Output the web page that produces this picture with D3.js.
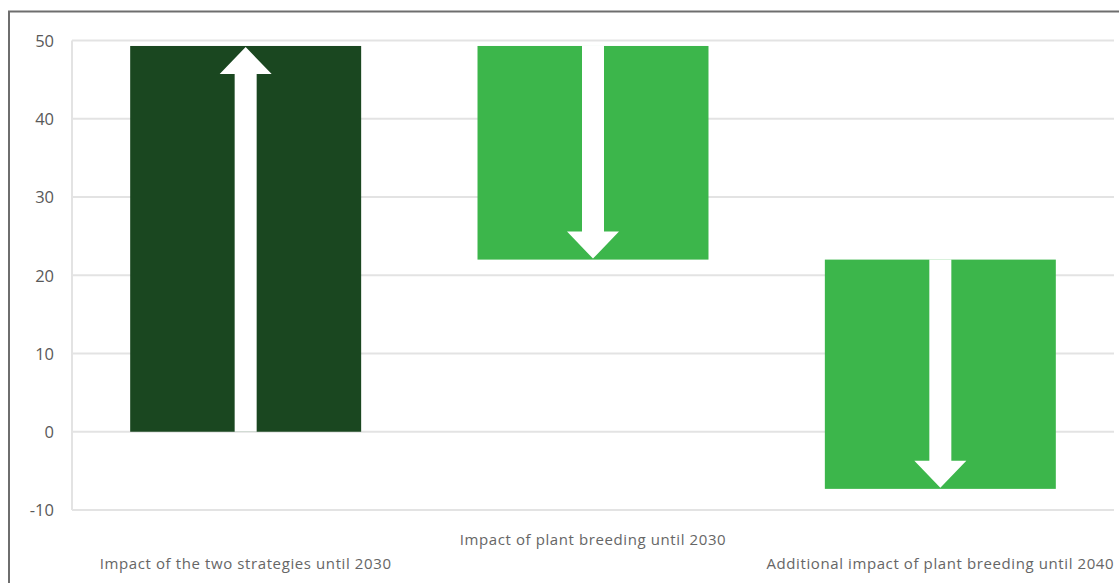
<!DOCTYPE html>
<html>
<head>
<meta charset="utf-8">
<script src="https://cdn.jsdelivr.net/npm/d3@7"></script>
<style>
html,body{margin:0;padding:0;background:#fff;}
svg{display:block;}
</style>
</head>
<body>
<svg id="chart" width="1119" height="583"></svg>
<script>
const categories = ["Impact of the two strategies until 2030", "Impact of plant breeding until 2030", "Additional impact of plant breeding until 2040"];
const startValues = [0, 49.3, 22.0];
const endValues = [49.3, 22.0, -7.3];
const barColors = ["#1a4720", "#3cb64b", "#3cb64b"];
const tickValues = [-10, 0, 10, 20, 30, 40, 50];

(function () {
const svg = d3.select("#chart");
const W = 1119, H = 583;
const pLeft = 72, pRight = 1114, pTop = 40.5, pBottom = 510;
const font = "'Open Sans', 'Noto Sans', sans-serif";

// outer border
svg.append("rect").attr("x", 9).attr("y", 11.5).attr("width", W + 10).attr("height", H + 10)
  .attr("fill", "none").attr("stroke", "#6e6e6e").attr("stroke-width", 2);

const x = d3.scaleBand().domain(categories).range([pLeft, pRight]).paddingInner(0.335).paddingOuter(0.1675);
const y = d3.scaleLinear().domain([-10, 50]).range([pBottom, pTop]);

// gridlines
svg.append("g").selectAll("line").data(tickValues).join("line")
  .attr("x1", pLeft).attr("x2", pRight)
  .attr("y1", d => y(d)).attr("y2", d => y(d))
  .attr("stroke", "#e3e3e3").attr("stroke-width", 2);
svg.append("line").attr("x1", pLeft).attr("x2", pLeft).attr("y1", pTop).attr("y2", pBottom)
  .attr("stroke", "#e3e3e3").attr("stroke-width", 2);

// y axis
const yAxis = d3.axisLeft(y).tickValues(tickValues).tickSize(0).tickPadding(0)
  .tickFormat(d => String(d));
const gy = svg.append("g").attr("transform", `translate(54,0)`).call(yAxis);
gy.select(".domain").remove();
gy.selectAll("text").attr("font-family", font).attr("font-size", 16.5)
  .attr("fill", "#595959").attr("dy", "0.35em");

// bars
const data = categories.map((c, i) => ({c, s: startValues[i], e: endValues[i], col: barColors[i]}));
svg.append("g").selectAll("rect").data(data).join("rect")
  .attr("x", d => x(d.c)).attr("width", x.bandwidth())
  .attr("y", d => y(Math.max(d.s, d.e)))
  .attr("height", d => Math.abs(y(d.s) - y(d.e)))
  .attr("fill", d => d.col);

// arrows
const shaftW = 22, headW = 52, headL = 27;
svg.append("g").selectAll("path").data(data).join("path")
  .attr("d", d => {
    const cx = x(d.c) + x.bandwidth() / 2;
    const y0 = y(d.s), y1 = y(d.e);
    const dir = y1 < y0 ? -1 : 1;
    const tip = y1 - dir * 1;
    const base = tip - dir * headL;
    const p = [
      [cx - shaftW / 2, y0], [cx - shaftW / 2, base], [cx - headW / 2, base],
      [cx, tip], [cx + headW / 2, base], [cx + shaftW / 2, base], [cx + shaftW / 2, y0]
    ];
    return d3.line()(p) + "Z";
  })
  .attr("fill", "#ffffff");

// category labels (staggered)
svg.append("g").selectAll("text").data(categories).join("text")
  .attr("x", d => x(d) + x.bandwidth() / 2)
  .attr("y", (d, i) => i % 2 === 0 ? 564 : 540)
  .attr("dy", "0.35em")
  .attr("text-anchor", "middle")
  .attr("font-family", font).attr("font-size", 15)
  .attr("letter-spacing", 0.6)
  .attr("fill", "#666666")
  .text(d => d);
})();
</script>
</body>
</html>
